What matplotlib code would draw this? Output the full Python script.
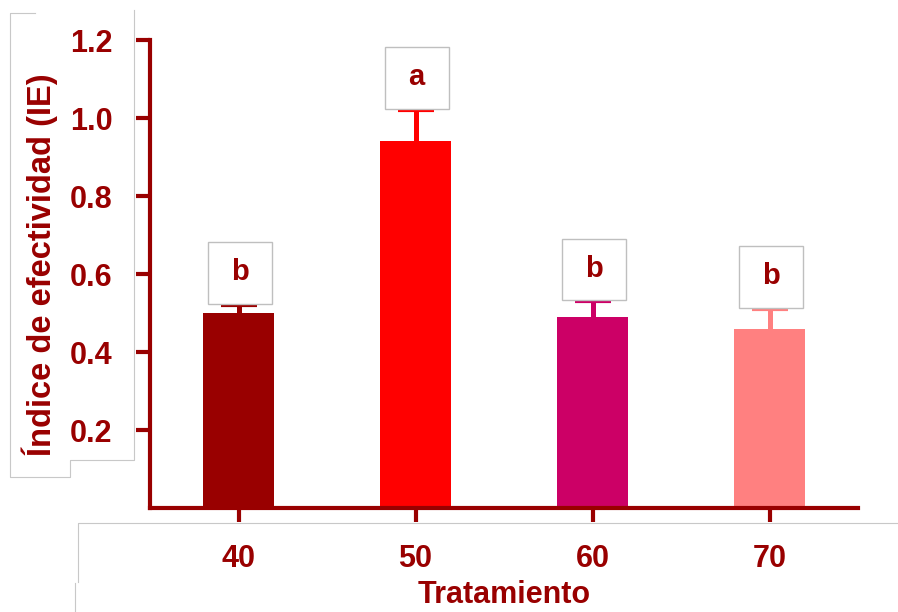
import matplotlib.pyplot as plt
from matplotlib.patches import Rectangle
from matplotlib.lines import Line2D

treatments = ["40", "50", "60", "70"]
ie_mean = [0.50, 0.94, 0.49, 0.46]
ie_err = [0.02, 0.08, 0.04, 0.05]
groups = ["b", "a", "b", "b"]
bar_colors = ["#990000", "#FF0000", "#CC0066", "#FF8080"]

dark = "#990000"
plt.rcParams["font.family"] = ["Liberation Sans", "DejaVu Sans"]
plt.rcParams["font.weight"] = "bold"

fig = plt.figure(figsize=(8.98, 6.12), dpi=100)
ax = fig.add_axes([150 / 898, 104 / 612, 708 / 898, 468 / 612])

x = list(range(len(treatments)))
for i in x:
    ax.bar(i, ie_mean[i], width=0.40, color=bar_colors[i], zorder=2)
    _, caps, _ = ax.errorbar(i, ie_mean[i], yerr=[[0], [ie_err[i]]],
                             fmt="none", ecolor=bar_colors[i], elinewidth=3.6,
                             capsize=13, capthick=3, zorder=2)
    caps[0].set_visible(False)  # upper error only
    # significance letter in a small framed box above the error bar
    y0 = ie_mean[i] + ie_err[i] + 0.004
    ax.add_patch(Rectangle((i - 0.175, y0), 0.362, 0.157, facecolor="white",
                           edgecolor="#BFBFBF", lw=1, zorder=3))
    ax.text(i + 0.006, y0 + 0.08, groups[i], ha="center", va="center",
            fontsize=21, color=dark, fontweight="bold", zorder=4)

ax.set_xlim(-0.5, 3.5)
ax.set_ylim(0, 1.2)
ax.set_xticks(x)
ax.set_xticklabels(treatments)
ax.set_yticks([0.2, 0.4, 0.6, 0.8, 1.0, 1.2])
ax.set_yticklabels(["0.2", "0.4", "0.6", "0.8", "1.0", "1.2"])

for side in ["top", "right"]:
    ax.spines[side].set_visible(False)
for side in ["left", "bottom"]:
    ax.spines[side].set_color(dark)
    ax.spines[side].set_linewidth(3)
ax.tick_params(colors=dark, width=3, length=10, labelsize=22, pad=17)
ax.tick_params(axis="x", pad=16)
for lab in ax.get_xticklabels() + ax.get_yticklabels():
    lab.set_fontweight("bold")

ax.set_xlabel("Tratamiento", fontsize=22, color=dark, fontweight="bold",
              labelpad=4)
fig.text(40 / 898, 1 - 265 / 612, "Índice de efectividad (IE)", rotation=90,
         ha="center", va="center", fontsize=23.5, color=dark, fontweight="bold")

# thin gray frames around the axis title areas
def frame(pts):
    xs = [p[0] / 898 for p in pts]
    ys = [1 - p[1] / 612 for p in pts]
    fig.add_artist(Line2D(xs, ys, color="#C8C8C8", lw=0.8))

frame([(35, 13), (10, 13), (10, 477), (70, 477), (70, 460), (134, 460), (134, 10)])
frame([(78, 582), (78, 523), (898, 523)])
frame([(75, 583), (75, 612)])

fig.savefig("out.png", dpi=100)
